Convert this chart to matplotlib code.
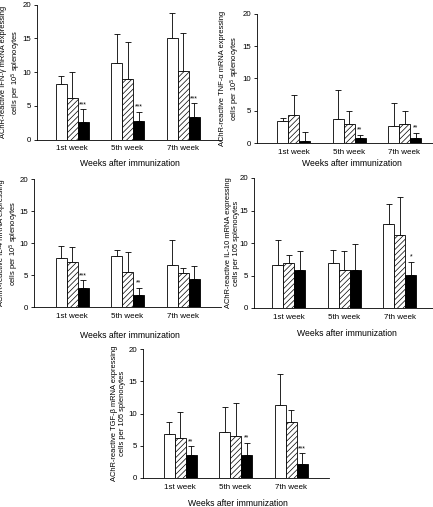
import numpy as np
import matplotlib
matplotlib.use("Agg")
import matplotlib.pyplot as plt
from matplotlib.transforms import blended_transform_factory

plt.rcParams["font.family"] = ["Liberation Sans", "DejaVu Sans"]
plt.rcParams["hatch.linewidth"] = 0.5

weeks = ["1st week", "5th week", "7th week"]
y_ticks = [0, 5, 10, 15, 20]

# mean, upper error bar end and significance marks; order: white, hatched, black
ifn_white = [8.2, 11.3, 15.1]
ifn_white_top = [9.4, 15.6, 18.7]
ifn_hatch = [6.2, 9.0, 10.2]
ifn_hatch_top = [10.0, 14.5, 15.8]
ifn_black = [2.6, 2.8, 3.4]
ifn_black_top = [4.5, 4.1, 5.4]
ifn_stars = ["***", "***", "***"]

tnf_white = [3.4, 3.7, 2.7]
tnf_white_top = [3.9, 8.2, 6.2]
tnf_hatch = [4.4, 2.9, 3.0]
tnf_hatch_top = [7.4, 5.0, 5.0]
tnf_black = [0.3, 0.8, 0.7]
tnf_black_top = [1.7, 1.3, 1.6]
tnf_stars = ["", "**", "**"]

il4_white = [7.7, 8.0, 6.6]
il4_white_top = [9.6, 8.9, 10.5]
il4_hatch = [7.0, 5.5, 5.3]
il4_hatch_top = [9.3, 8.6, 6.1]
il4_black = [2.9, 1.9, 4.3]
il4_black_top = [4.2, 3.0, 6.4]
il4_stars = ["***", "**", ""]

il10_white = [6.6, 7.0, 13.0]
il10_white_top = [10.5, 9.0, 16.0]
il10_hatch = [6.9, 5.8, 11.3]
il10_hatch_top = [8.2, 8.7, 17.1]
il10_black = [5.8, 5.9, 5.1]
il10_black_top = [8.8, 9.9, 7.1]
il10_stars = ["", "", "*"]

tgf_white = [6.8, 7.1, 11.3]
tgf_white_top = [8.7, 11.0, 16.2]
tgf_hatch = [6.2, 6.5, 8.7]
tgf_hatch_top = [10.3, 11.7, 10.5]
tgf_black = [3.5, 3.5, 2.2]
tgf_black_top = [4.9, 5.5, 3.8]
tgf_stars = ["**", "**", "***"]

panels = [
    ("AChR-reactive IFN-\u03b3 mRNA expressing\ncells per 10$^5$ splenocytes",
     ifn_white, ifn_white_top, ifn_hatch, ifn_hatch_top, ifn_black, ifn_black_top, ifn_stars),
    ("AChR-reactive TNF-\u03b1 mRNA expressing\ncells per 10$^5$ splenocytes",
     tnf_white, tnf_white_top, tnf_hatch, tnf_hatch_top, tnf_black, tnf_black_top, tnf_stars),
    ("AChR-reactive IL-4 mRNA expressing\ncells per 10$^5$ splenocytes",
     il4_white, il4_white_top, il4_hatch, il4_hatch_top, il4_black, il4_black_top, il4_stars),
    ("AChR-reactive IL-10 mRNA expressing\ncells per 105 splenocytes",
     il10_white, il10_white_top, il10_hatch, il10_hatch_top, il10_black, il10_black_top, il10_stars),
    ("AChR-reactive TGF-\u03b2 mRNA expressing\ncells per 105 splenocytes",
     tgf_white, tgf_white_top, tgf_hatch, tgf_hatch_top, tgf_black, tgf_black_top, tgf_stars),
]

# pixel layout: spine x, first group centre, y of 0, y of 20, xlabel top, ylabel centre x
layout = [
    (36.7, 72.0, 139.5, 4.7, 158.5, 11.5),
    (256.7, 293.5, 143.0, 14.0, 159.5, 230.5),
    (34.0, 72.0, 307.0, 179.0, 331.0, 9.5),
    (254.0, 289.0, 308.0, 178.0, 329.0, 232.0),
    (143.0, 180.0, 478.0, 349.0, 498.5, 118.0),
]

W, H = 433, 507
spacing = 55.5
bar_w = 11.0 / spacing

fig = plt.figure(figsize=(W / 100, H / 100), dpi=100)

for (ylab, wv, wt, hv, ht, bv, bt, stars), (sx, g1, y0, y20, xl_top, yl_x) in zip(panels, layout):
    x_left = (sx - g1) / spacing
    x_right = 2 + 0.5 + 10 / spacing
    width_px = (x_right - x_left) * spacing
    ax = fig.add_axes([sx / W, 1 - y0 / H, width_px / W, (y0 - y20) / H])
    x = np.arange(3)

    series = [(wv, wt, "white", None), (hv, ht, "white", "//////"), (bv, bt, "black", None)]
    for k, (vals, tops, fc, hatch) in enumerate(series):
        xs = x + (k - 1) * bar_w
        ax.bar(xs, vals, bar_w, color=fc, edgecolor="black", linewidth=0.6, hatch=hatch, zorder=2)
        err = np.array(tops) - np.array(vals)
        ax.errorbar(xs, vals, yerr=[np.zeros(3), err], fmt="none", ecolor="black",
                    elinewidth=0.6, capsize=2.2, capthick=0.6, zorder=1)
    for i, s in enumerate(stars):
        if s:
            ax.text(x[i] + bar_w, bt[i] + 0.15, s, ha="center", va="bottom", fontsize=5)

    ax.set_xlim(x_left, x_right)
    ax.set_ylim(0, 20)
    ax.set_yticks(y_ticks)
    ax.set_xticks(x)
    ax.set_xticklabels(weeks)
    ax.tick_params(axis="x", length=0, pad=4, labelsize=5.8)
    ax.tick_params(axis="y", direction="out", length=2.2, width=0.6, pad=2, labelsize=5.7)
    for side in ["top", "right"]:
        ax.spines[side].set_visible(False)
    for side in ["left", "bottom"]:
        ax.spines[side].set_linewidth(0.6)

    ax.set_xlabel("Weeks after immunization", fontsize=6.2)
    tr = blended_transform_factory(ax.transData, ax.transAxes)
    ax.xaxis.set_label_coords(1.05, -(xl_top - y0) / (y0 - y20), transform=tr)
    fig.text(yl_x / W, 1 - (y0 + y20) / 2 / H, ylab, rotation=90, ha="center", va="center",
             fontsize=5.4, linespacing=1.2)

fig.savefig("out.png", dpi=100)
